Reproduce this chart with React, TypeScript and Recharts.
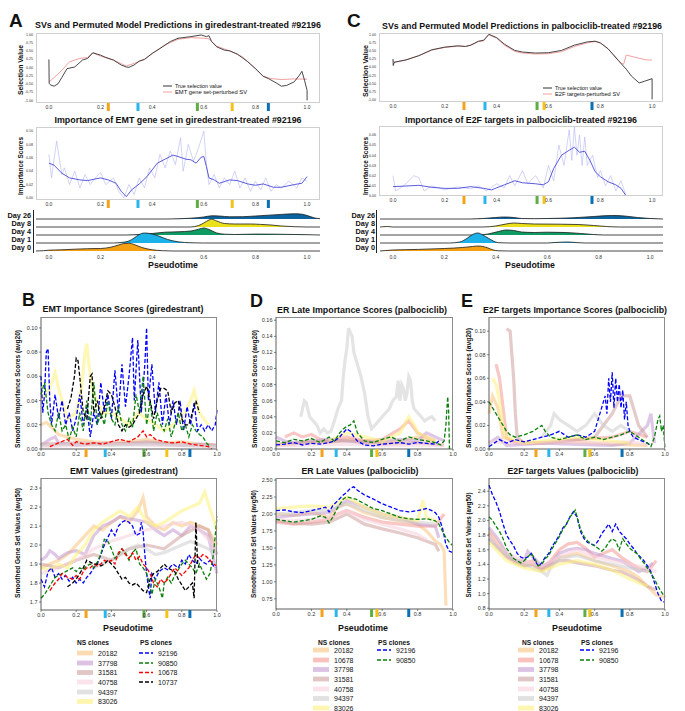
import React from 'react';
import { ComposedChart, Line, Area, Scatter, XAxis, YAxis } from 'recharts';

type Pt = [number, number];

const FONT = '"Liberation Sans", Arial, sans-serif';
const X_TICKS = [0, 0.2, 0.4, 0.6, 0.8, 1.0];

// stage markers drawn under each pseudotime axis
const STAGE_COLORS = ['#f5a21b', '#29b6ee', '#5fae45', '#f5c21a', '#0b6fb4'];
const markA = [0.23, 0.345, 0.575, 0.71, 0.85];
const markC = [0.274, 0.355, 0.556, 0.583, 0.768];
const markB = [0.256, 0.365, 0.585, 0.715, 0.846];
const markD = [0.26, 0.34, 0.54, 0.57, 0.75];
const markE = [0.267, 0.34, 0.545, 0.573, 0.756];

// ---- Panel A: giredestrant #92196 ----
const aTrueSV: Pt[] = [[0, 0.24], [0.001, -0.49], [0.008, -0.54], [0.02, -0.57], [0.035, -0.5], [0.05, -0.31], [0.07, -0.04], [0.1, 0.01], [0.13, 0.22], [0.15, 0.27], [0.17, 0.44], [0.2, 0.37], [0.22, 0.3], [0.25, 0.22], [0.28, 0.07], [0.3, 0.01], [0.31, 0], [0.33, 0.07], [0.35, 0.19], [0.37, 0.24], [0.4, 0.42], [0.43, 0.57], [0.47, 0.78], [0.5, 0.88], [0.55, 0.93], [0.59, 0.98], [0.61, 0.93], [0.62, 0.96], [0.63, 0.78], [0.65, 0.62], [0.68, 0.52], [0.7, 0.5], [0.73, 0.4], [0.77, 0.17], [0.8, -0.04], [0.83, -0.27], [0.85, -0.34], [0.88, -0.47], [0.9, -0.57], [0.92, -0.55], [0.95, -0.44], [0.97, -0.24], [0.98, -0.12], [0.99, -0.39], [1.0, -0.7], [1.0, -1.0]];
const aPermSV: Pt[] = [[0, -0.44], [0.02, -0.31], [0.05, -0.09], [0.08, 0.17], [0.12, 0.27], [0.15, 0.3], [0.17, 0.44], [0.2, 0.34], [0.25, 0.22], [0.3, 0.04], [0.33, 0.12], [0.37, 0.24], [0.4, 0.42], [0.45, 0.68], [0.5, 0.85], [0.55, 0.9], [0.6, 0.88], [0.62, 0.86], [0.65, 0.64], [0.7, 0.5], [0.75, 0.32], [0.8, -0.04], [0.83, -0.27], [0.86, -0.34], [0.9, -0.37], [0.95, -0.35], [1.0, -0.36]];
const aImpSmooth: Pt[] = [[0, 0.052], [0.02, 0.049], [0.05, 0.037], [0.08, 0.03], [0.12, 0.027], [0.15, 0.026], [0.2, 0.03], [0.23, 0.027], [0.26, 0.022], [0.28, 0.01], [0.3, 0.002], [0.32, 0.012], [0.35, 0.021], [0.38, 0.032], [0.4, 0.042], [0.42, 0.052], [0.45, 0.058], [0.48, 0.064], [0.5, 0.062], [0.53, 0.058], [0.55, 0.057], [0.57, 0.052], [0.59, 0.061], [0.6, 0.062], [0.61, 0.047], [0.62, 0.03], [0.64, 0.027], [0.66, 0.022], [0.7, 0.027], [0.73, 0.026], [0.77, 0.021], [0.8, 0.019], [0.83, 0.021], [0.87, 0.016], [0.9, 0.016], [0.95, 0.02], [0.98, 0.022], [1.0, 0.032]];
const aImpRaw: Pt[] = [[0, 0.065], [0.01, 0.03], [0.03, 0.085], [0.04, 0.06], [0.05, 0.035], [0.06, 0.045], [0.08, 0.02], [0.1, 0.04], [0.12, 0.015], [0.14, 0.035], [0.16, 0.02], [0.18, 0.03], [0.2, 0.038], [0.22, 0.02], [0.25, 0.03], [0.27, 0.01], [0.29, 0], [0.31, 0.02], [0.33, 0.005], [0.35, 0.03], [0.37, 0.015], [0.39, 0.045], [0.41, 0.03], [0.43, 0.065], [0.45, 0.045], [0.47, 0.07], [0.49, 0.05], [0.51, 0.09], [0.52, 0.04], [0.54, 0.08], [0.56, 0.055], [0.58, 0.075], [0.6, 0.1], [0.61, 0.05], [0.62, 0.02], [0.64, 0.035], [0.66, 0.015], [0.68, 0.03], [0.7, 0.02], [0.72, 0.04], [0.74, 0.015], [0.76, 0.03], [0.78, 0.01], [0.8, 0.025], [0.82, 0.012], [0.84, 0.03], [0.86, 0.01], [0.88, 0.02], [0.9, 0.015], [0.93, 0.025], [0.96, 0.015], [0.98, 0.03], [1.0, 0.025]];

// ridgeline densities (Day 26 on top)
const ridgeA = [
  { label: 'Day 26', color: '#0b639e', pts: [[-0.05, 0], [0.45, 0], [0.5, 0.2], [0.55, 0.8], [0.6, 2], [0.63, 3.2], [0.66, 3], [0.7, 2.2], [0.75, 2.3], [0.8, 3], [0.85, 3.8], [0.9, 4.6], [0.95, 5.2], [0.98, 4.8], [1.0, 3.5], [1.03, 1], [1.05, 0.3]] as Pt[] },
  { label: 'Day 8', color: '#ece01c', pts: [[-0.05, 0], [0.55, 0], [0.58, 1.5], [0.6, 4], [0.62, 7], [0.63, 7.8], [0.65, 6], [0.68, 3.5], [0.72, 3], [0.78, 3], [0.82, 2.6], [0.86, 2], [0.9, 1], [0.95, 0.3], [1.0, 0], [1.05, 0]] as Pt[] },
  { label: 'Day 4', color: '#0e9a63', pts: [[-0.05, 0], [0.3, 0], [0.35, 0.5], [0.4, 1.5], [0.45, 2.8], [0.5, 3.2], [0.55, 4], [0.58, 5.8], [0.6, 7], [0.62, 5.5], [0.65, 2], [0.68, 0.8], [0.72, 0.5], [0.8, 0.9], [0.88, 0.8], [0.95, 0.5], [1.0, 0.3], [1.05, 0]] as Pt[] },
  { label: 'Day 1', color: '#1ab2e8', pts: [[-0.05, 0], [0.25, 0], [0.28, 0.5], [0.31, 2], [0.33, 5], [0.35, 8.5], [0.37, 10], [0.4, 9], [0.43, 6.5], [0.46, 3.5], [0.5, 1.2], [0.55, 0.2], [0.6, 0], [1.05, 0]] as Pt[] },
  { label: 'Day 0', color: '#f59f12', pts: [[-0.05, 0], [-0.02, 0.3], [0, 0.8], [0.05, 1.2], [0.1, 1.8], [0.15, 2.3], [0.2, 2.5], [0.24, 3.8], [0.27, 6], [0.29, 7.5], [0.31, 7.8], [0.33, 6.5], [0.36, 3.5], [0.4, 1.2], [0.44, 0.3], [0.48, 0], [1.05, 0]] as Pt[] },
];

// ---- Panel C: palbociclib #92196 ----
const cTrueSV: Pt[] = [[0, 0.25], [0.001, 0.05], [0.005, 0.15], [0.05, 0.22], [0.1, 0.35], [0.15, 0.53], [0.2, 0.61], [0.25, 0.65], [0.28, 0.63], [0.3, 0.67], [0.33, 0.79], [0.35, 0.82], [0.37, 1.0], [0.4, 0.9], [0.43, 0.7], [0.47, 0.51], [0.5, 0.46], [0.55, 0.43], [0.6, 0.44], [0.65, 0.51], [0.7, 0.67], [0.75, 0.77], [0.78, 0.79], [0.8, 0.74], [0.83, 0.56], [0.87, 0.2], [0.9, -0.06], [0.92, -0.27], [0.95, -0.48], [0.97, -0.43], [1.0, -0.35], [1.0, -0.98]];
const cPermSV: Pt[] = [[0, 0.2], [0.005, 0.15], [0.05, 0.22], [0.1, 0.35], [0.15, 0.52], [0.2, 0.6], [0.25, 0.64], [0.28, 0.63], [0.3, 0.67], [0.33, 0.78], [0.35, 0.8], [0.37, 0.99], [0.4, 0.88], [0.43, 0.67], [0.47, 0.48], [0.5, 0.43], [0.55, 0.4], [0.6, 0.41], [0.65, 0.47], [0.7, 0.63], [0.75, 0.74], [0.78, 0.78], [0.8, 0.74], [0.83, 0.56], [0.86, 0.3], [0.88, 0.12], [0.89, 0.09], [0.9, 0.37], [0.95, 0.27], [0.98, 0.22], [1.0, 0.22]];
const cImpSmooth: Pt[] = [[0, 0.0092], [0.05, 0.0098], [0.1, 0.0105], [0.15, 0.0085], [0.2, 0.0075], [0.25, 0.0075], [0.3, 0.0092], [0.35, 0.0075], [0.38, 0.006], [0.4, 0.008], [0.43, 0.011], [0.47, 0.015], [0.5, 0.013], [0.55, 0.012], [0.58, 0.011], [0.6, 0.014], [0.62, 0.027], [0.65, 0.04], [0.68, 0.045], [0.7, 0.048], [0.72, 0.043], [0.74, 0.044], [0.76, 0.035], [0.78, 0.024], [0.8, 0.019], [0.83, 0.014], [0.86, 0.011], [0.88, 0.0075], [0.9, 0]];
const cImpRaw: Pt[] = [[0, 0.02], [0.01, 0.005], [0.03, 0.008], [0.05, 0.012], [0.08, 0.02], [0.1, 0.018], [0.12, 0.005], [0.15, 0.01], [0.2, 0.006], [0.25, 0.009], [0.3, 0.007], [0.33, 0.01], [0.36, 0.005], [0.4, 0.012], [0.43, 0.008], [0.45, 0.02], [0.47, 0.01], [0.5, 0.025], [0.52, 0.012], [0.55, 0.02], [0.58, 0.008], [0.6, 0.03], [0.62, 0.015], [0.64, 0.05], [0.66, 0.03], [0.68, 0.065], [0.69, 0.035], [0.7, 0.068], [0.71, 0.04], [0.72, 0.06], [0.73, 0.03], [0.74, 0.058], [0.75, 0.03], [0.77, 0.04], [0.79, 0.018], [0.8, 0.025], [0.82, 0.01], [0.84, 0.02], [0.86, 0.005], [0.88, 0.015], [0.9, 0]];

const ridgeC = [
  { label: 'Day 26', color: '#0b639e', pts: [[-0.05, 0], [0.3, 0], [0.35, 0.5], [0.4, 1.5], [0.43, 2], [0.47, 1.5], [0.5, 0.5], [0.55, 0.3], [0.6, 0.5], [0.7, 1.2], [0.78, 2.5], [0.85, 3.5], [0.9, 3], [0.95, 1.5], [1.0, 0.5], [1.05, 0]] as Pt[] },
  { label: 'Day 8', color: '#ece01c', pts: [[-0.05, 0], [-0.02, 0.5], [0, 0], [0.35, 0], [0.4, 1], [0.44, 3], [0.47, 4], [0.5, 3.5], [0.55, 3], [0.65, 2.8], [0.72, 2.5], [0.78, 1.5], [0.83, 0.5], [0.88, 0], [1.05, 0]] as Pt[] },
  { label: 'Day 4', color: '#0e9a63', pts: [[-0.05, 0], [0.33, 0], [0.37, 1], [0.41, 3.5], [0.44, 5], [0.47, 4.5], [0.5, 3], [0.55, 2.5], [0.6, 2.8], [0.67, 2.5], [0.73, 1.5], [0.78, 0.5], [0.82, 0], [1.05, 0]] as Pt[] },
  { label: 'Day 1', color: '#1ab2e8', pts: [[-0.05, 0], [0.22, 0], [0.26, 1], [0.29, 5], [0.31, 8.5], [0.33, 10], [0.35, 8], [0.37, 5], [0.39, 2], [0.41, 0.3], [0.45, 0], [0.6, 0], [0.63, 0.5], [0.68, 1], [0.72, 0.3], [0.75, 0], [1.05, 0]] as Pt[] },
  { label: 'Day 0', color: '#f59f12', pts: [[-0.05, 0], [-0.03, 0.4], [0, 1], [0.1, 1.6], [0.2, 2.5], [0.27, 3.5], [0.31, 4.5], [0.33, 5], [0.35, 4.5], [0.37, 3], [0.39, 1], [0.41, 0.2], [0.45, 0], [1.05, 0]] as Pt[] },
];

// ---- Panel B: EMT (giredestrant) ----
const bImp92196: Pt[] = [[0, 0.06], [0.01, 0.03], [0.02, 0.045], [0.03, 0.08], [0.04, 0.083], [0.05, 0.04], [0.06, 0.02], [0.08, 0.045], [0.1, 0.025], [0.12, 0.04], [0.14, 0.02], [0.16, 0.03], [0.18, 0.015], [0.2, 0.025], [0.22, 0.045], [0.24, 0.02], [0.26, 0.035], [0.28, 0.01], [0.3, 0.03], [0.32, 0.02], [0.34, 0.055], [0.36, 0.03], [0.38, 0.045], [0.4, 0.025], [0.42, 0.065], [0.44, 0.03], [0.46, 0.07], [0.48, 0.035], [0.5, 0.06], [0.52, 0.092], [0.53, 0.04], [0.55, 0.09], [0.57, 0.03], [0.59, 0.07], [0.6, 0.1], [0.61, 0.04], [0.63, 0.07], [0.65, 0.03], [0.67, 0.055], [0.69, 0.02], [0.71, 0.045], [0.73, 0.02], [0.75, 0.04], [0.77, 0.02], [0.79, 0.04], [0.81, 0.015], [0.83, 0.035], [0.85, 0.02], [0.87, 0.038], [0.89, 0.015], [0.91, 0.02], [0.93, 0.015], [0.95, 0.02], [0.97, 0.015], [0.99, 0.02], [1.0, 0.032]];
const bImp90850: Pt[] = [[0, 0.045], [0.02, 0.055], [0.04, 0.03], [0.06, 0.02], [0.08, 0.015], [0.1, 0.03], [0.12, 0.015], [0.14, 0.02], [0.16, 0.008], [0.18, 0.018], [0.2, 0.01], [0.22, 0.03], [0.24, 0.015], [0.26, 0.04], [0.28, 0.02], [0.3, 0.055], [0.32, 0.02], [0.34, 0.03], [0.36, 0.02], [0.38, 0.04], [0.4, 0.025], [0.42, 0.02], [0.44, 0.035], [0.46, 0.02], [0.48, 0.015], [0.5, 0.025], [0.52, 0.018], [0.54, 0.045], [0.56, 0.03], [0.58, 0.06], [0.6, 0.02], [0.62, 0.04], [0.64, 0.015], [0.66, 0.03], [0.68, 0.02], [0.7, 0.015], [0.72, 0.025], [0.74, 0.01], [0.76, 0.02], [0.78, 0.03], [0.8, 0.015], [0.82, 0.02], [0.84, 0.01], [0.86, 0.02], [0.88, 0.015], [0.9, 0.012], [0.92, 0.01], [0.94, 0.005], [0.96, 0.002]];
const bImp10678: Pt[] = [[0.05, 0.002], [0.1, 0.005], [0.15, 0.008], [0.18, 0.003], [0.2, 0.006], [0.25, 0.004], [0.3, 0.005], [0.35, 0.004], [0.4, 0.006], [0.45, 0.008], [0.5, 0.006], [0.55, 0.01], [0.58, 0.015], [0.6, 0.01], [0.62, 0.012], [0.65, 0.008], [0.7, 0.006], [0.75, 0.005], [0.8, 0.006], [0.85, 0.004], [0.9, 0.003], [0.95, 0.002], [0.97, 0]];
const bImp10737: Pt[] = [[0.15, 0.033], [0.17, 0.042], [0.19, 0.06], [0.2, 0.075], [0.21, 0.073], [0.22, 0.06], [0.24, 0.03], [0.26, 0.025], [0.28, 0.06], [0.29, 0.062], [0.3, 0.03], [0.32, 0.04], [0.34, 0.025], [0.36, 0.035], [0.38, 0.048], [0.4, 0.045], [0.42, 0.035], [0.44, 0.02], [0.46, 0.015], [0.48, 0.02], [0.5, 0.018], [0.52, 0.02], [0.54, 0.025], [0.56, 0.03], [0.58, 0.045], [0.6, 0.052], [0.62, 0.04], [0.64, 0.025], [0.66, 0.04], [0.68, 0.05], [0.7, 0.05], [0.72, 0.048], [0.74, 0.03], [0.76, 0.038], [0.78, 0.04], [0.8, 0.025], [0.82, 0.02], [0.84, 0.02], [0.86, 0.03], [0.88, 0.04], [0.9, 0.03]];
const bImp20182: Pt[] = [[0, 0.02], [0.03, 0.022], [0.06, 0.018], [0.1, 0.012], [0.15, 0.01], [0.2, 0.008], [0.3, 0.006], [0.4, 0.005], [0.5, 0.006], [0.6, 0.008], [0.7, 0.005], [0.8, 0.006], [0.9, 0.004], [1.0, 0.003]];
const bImp37798: Pt[] = [[0, 0.003], [0.05, 0.008], [0.08, 0.01], [0.1, 0.005], [0.15, 0.004], [0.2, 0.003], [0.3, 0.004], [0.4, 0.005], [0.5, 0.004], [0.6, 0.005], [0.7, 0.004], [0.8, 0.003], [0.9, 0.004], [1.0, 0.003]];
const bImp31581: Pt[] = [[0, 0.004], [0.2, 0.005], [0.4, 0.004], [0.6, 0.006], [0.8, 0.004], [1.0, 0.003]];
const bImp40758: Pt[] = [[0, 0.002], [0.2, 0.003], [0.4, 0.004], [0.6, 0.003], [0.8, 0.003], [1.0, 0.002]];
const bImp94397: Pt[] = [[0, 0.003], [0.2, 0.004], [0.4, 0.003], [0.6, 0.004], [0.8, 0.003], [1.0, 0.002]];
const bImp83026: Pt[] = [[0, 0.04], [0.05, 0.05], [0.08, 0.063], [0.1, 0.05], [0.13, 0.035], [0.15, 0.025], [0.2, 0.03], [0.23, 0.05], [0.25, 0.08], [0.26, 0.087], [0.28, 0.06], [0.3, 0.045], [0.35, 0.03], [0.4, 0.03], [0.45, 0.025], [0.5, 0.02], [0.55, 0.03], [0.6, 0.025], [0.65, 0.02], [0.7, 0.015], [0.75, 0.02], [0.8, 0.025], [0.85, 0.04], [0.87, 0.048], [0.9, 0.03], [0.95, 0.02]];

const bVal92196: Pt[] = [[0, 1.82], [0.02, 1.78], [0.04, 1.86], [0.06, 1.88], [0.08, 1.83], [0.1, 1.85], [0.12, 1.82], [0.14, 1.84], [0.16, 1.81], [0.18, 1.83], [0.2, 1.8], [0.22, 1.82], [0.24, 1.8], [0.26, 1.83], [0.28, 1.85], [0.3, 1.88], [0.32, 1.9], [0.34, 1.95], [0.36, 2.0], [0.38, 2.04], [0.4, 2.08], [0.42, 2.05], [0.44, 2.1], [0.46, 2.12], [0.48, 2.13], [0.5, 2.12], [0.52, 2.1], [0.54, 2.05], [0.56, 2.06], [0.57, 2.12], [0.58, 2.07], [0.59, 1.95], [0.6, 1.85], [0.61, 1.78], [0.62, 1.72], [0.63, 1.85], [0.65, 1.82], [0.67, 1.86], [0.7, 1.88], [0.72, 1.87], [0.75, 1.9], [0.78, 1.88], [0.8, 1.92], [0.82, 1.9], [0.84, 1.95], [0.86, 1.92], [0.88, 1.9], [0.9, 1.93], [0.92, 1.91], [0.94, 1.9], [0.96, 1.92], [0.98, 1.89], [1.0, 1.88]];
const bVal90850: Pt[] = [[0, 1.72], [0.02, 1.74], [0.04, 1.77], [0.06, 1.8], [0.08, 1.83], [0.1, 1.84], [0.12, 1.85], [0.14, 1.86], [0.16, 1.87], [0.18, 1.88], [0.2, 1.86], [0.22, 1.88], [0.24, 1.87], [0.26, 1.89], [0.28, 1.9], [0.3, 1.88], [0.32, 1.91], [0.34, 1.95], [0.36, 2.03], [0.38, 2.02], [0.4, 1.98], [0.42, 1.93], [0.44, 1.95], [0.46, 1.98], [0.48, 1.96], [0.5, 1.92], [0.52, 1.96], [0.54, 1.98], [0.56, 1.9], [0.58, 1.88], [0.6, 1.85], [0.62, 1.78], [0.63, 1.74], [0.65, 1.82], [0.67, 1.78], [0.69, 1.72], [0.7, 1.8], [0.72, 1.83], [0.74, 1.8], [0.76, 1.84], [0.78, 1.87], [0.8, 1.9], [0.82, 1.92], [0.84, 1.9], [0.86, 1.88], [0.88, 1.85], [0.9, 1.9], [0.92, 1.86], [0.94, 1.82], [0.96, 1.85], [0.98, 1.95], [1.0, 2.15]];
const bVal10678: Pt[] = [[0.05, 1.76], [0.08, 1.8], [0.1, 1.82], [0.12, 1.85], [0.15, 1.83], [0.18, 1.82], [0.2, 1.84], [0.22, 1.82], [0.24, 1.86], [0.26, 1.88], [0.28, 1.88], [0.3, 1.9], [0.32, 1.89], [0.34, 1.9], [0.36, 1.92], [0.38, 1.91], [0.4, 1.92], [0.42, 1.9], [0.44, 1.96], [0.46, 1.98], [0.48, 1.95], [0.5, 1.93], [0.52, 1.96], [0.54, 1.92], [0.56, 1.94], [0.58, 1.9], [0.6, 1.88], [0.62, 1.85], [0.64, 1.8], [0.66, 1.78], [0.68, 1.82], [0.7, 1.8], [0.72, 1.82], [0.74, 1.85], [0.76, 1.88], [0.78, 1.86], [0.8, 1.84], [0.82, 1.86], [0.84, 1.88], [0.86, 1.92], [0.88, 1.95], [0.9, 1.93], [0.92, 1.95], [0.94, 1.94], [0.96, 1.92], [0.98, 1.9], [1.0, 1.89]];
const bVal10737: Pt[] = [[0.15, 1.78], [0.18, 1.8], [0.2, 1.82], [0.22, 1.85], [0.24, 1.88], [0.26, 1.92], [0.28, 1.91], [0.3, 1.9], [0.32, 1.9], [0.34, 1.89], [0.36, 1.9], [0.38, 1.92], [0.4, 1.9], [0.42, 1.88], [0.44, 1.85], [0.46, 1.82], [0.48, 1.83], [0.5, 1.8], [0.52, 1.79], [0.54, 1.8], [0.56, 1.78], [0.58, 1.76], [0.6, 1.75], [0.62, 1.82], [0.64, 1.85], [0.66, 1.86], [0.68, 1.88], [0.7, 1.9], [0.72, 1.88], [0.74, 1.87], [0.76, 1.86], [0.78, 1.82], [0.8, 1.79], [0.82, 1.76], [0.84, 1.78], [0.86, 1.8], [0.87, 1.72], [0.88, 2.12], [0.89, 1.9], [0.9, 1.88]];
const bVal20182: Pt[] = [[0, 1.88], [0.05, 1.9], [0.1, 1.92], [0.15, 1.95], [0.2, 2.0], [0.25, 2.05], [0.3, 2.1], [0.35, 2.08], [0.4, 2.12], [0.45, 2.15], [0.5, 2.12], [0.55, 2.18], [0.58, 2.25], [0.6, 2.15], [0.65, 2.1], [0.7, 2.08], [0.75, 2.12], [0.8, 2.1], [0.85, 2.12], [0.9, 2.1], [0.95, 2.08], [1.0, 2.0]];
const bVal37798: Pt[] = [[0, 1.92], [0.03, 1.94], [0.05, 1.97], [0.08, 1.95], [0.1, 1.93], [0.15, 1.96], [0.2, 1.97], [0.25, 1.95], [0.3, 2.05], [0.35, 2.1], [0.4, 2.12], [0.45, 2.15], [0.5, 2.14], [0.55, 2.13], [0.6, 2.12], [0.65, 2.08], [0.7, 2.05], [0.75, 2.08], [0.8, 2.05], [0.85, 2.1], [0.9, 2.08], [0.95, 2.05], [1.0, 1.85]];
const bVal31581: Pt[] = [[0, 1.9], [0.1, 1.88], [0.2, 1.92], [0.3, 1.95], [0.4, 1.92], [0.5, 1.98], [0.6, 2.0], [0.7, 1.98], [0.8, 2.05], [0.9, 2.1], [0.95, 2.08], [1.0, 1.95]];
const bVal40758: Pt[] = [[0, 1.85], [0.1, 1.88], [0.2, 1.92], [0.3, 1.98], [0.4, 2.02], [0.5, 2.05], [0.6, 2.08], [0.7, 2.1], [0.8, 2.12], [0.9, 2.08], [1.0, 1.98]];
const bVal94397: Pt[] = [[0.3, 1.88], [0.4, 1.92], [0.5, 1.98], [0.55, 2.0], [0.6, 1.98], [0.65, 1.95], [0.7, 1.96], [0.75, 1.98], [0.8, 2.0], [0.85, 2.02], [0.9, 2.0], [0.95, 1.98], [1.0, 1.95]];
const bVal83026: Pt[] = [[0, 1.88], [0.05, 1.87], [0.1, 1.9], [0.15, 1.88], [0.2, 1.95], [0.25, 2.0], [0.3, 2.08], [0.35, 2.12], [0.4, 2.15], [0.45, 2.18], [0.5, 2.15], [0.55, 2.2], [0.6, 2.12], [0.65, 2.1], [0.7, 2.12], [0.75, 2.15], [0.8, 2.18], [0.85, 2.2], [0.9, 2.22], [0.93, 2.28], [0.95, 2.22], [1.0, 2.08]];

// ---- Panel D: ER Late (palbociclib) ----
const dImp94397: Pt[] = [[0.14, 0.04], [0.15, 0.05], [0.16, 0.06], [0.17, 0.058], [0.19, 0.04], [0.21, 0.035], [0.23, 0.03], [0.25, 0.02], [0.27, 0.025], [0.29, 0.02], [0.31, 0.022], [0.33, 0.035], [0.35, 0.05], [0.37, 0.06], [0.38, 0.09], [0.39, 0.11], [0.4, 0.125], [0.41, 0.15], [0.42, 0.145], [0.43, 0.14], [0.44, 0.12], [0.46, 0.105], [0.48, 0.09], [0.5, 0.07], [0.52, 0.04], [0.54, 0.025], [0.56, 0.03], [0.58, 0.035], [0.6, 0.04], [0.62, 0.045], [0.64, 0.05], [0.66, 0.06], [0.68, 0.065], [0.69, 0.085], [0.7, 0.06], [0.71, 0.08], [0.72, 0.075], [0.73, 0.06], [0.74, 0.07], [0.75, 0.09], [0.76, 0.085], [0.77, 0.06], [0.78, 0.05], [0.8, 0.045], [0.82, 0.04], [0.84, 0.035], [0.86, 0.038], [0.88, 0.04], [0.9, 0.035]];
const dImp90850: Pt[] = [[0, 0.01], [0.05, 0.008], [0.1, 0.012], [0.15, 0.01], [0.2, 0.013], [0.25, 0.008], [0.3, 0.015], [0.33, 0.01], [0.36, 0.02], [0.38, 0.025], [0.4, 0.028], [0.42, 0.03], [0.44, 0.035], [0.46, 0.02], [0.5, 0.01], [0.55, 0.008], [0.6, 0.012], [0.65, 0.015], [0.7, 0.01], [0.75, 0.015], [0.8, 0.012], [0.85, 0.01], [0.9, 0.008], [0.93, 0.005], [0.95, 0.01], [0.96, 0.03], [0.97, 0.065], [0.975, 0.05], [0.98, 0]];
const dImp92196: Pt[] = [[0, 0.005], [0.05, 0.006], [0.1, 0.008], [0.15, 0.005], [0.2, 0.007], [0.25, 0.006], [0.3, 0.008], [0.33, 0.01], [0.36, 0.015], [0.38, 0.02], [0.4, 0.025], [0.42, 0.022], [0.44, 0.015], [0.46, 0.01], [0.5, 0.005], [0.55, 0.004], [0.6, 0.006], [0.65, 0.007], [0.7, 0.008], [0.75, 0.006], [0.8, 0.008], [0.85, 0.007], [0.9, 0.006], [0.92, 0.01]];
const dImp20182: Pt[] = [[0, 0.005], [0.1, 0.006], [0.2, 0.01], [0.3, 0.008], [0.4, 0.012], [0.5, 0.01], [0.6, 0.008], [0.7, 0.01], [0.8, 0.015], [0.9, 0.008]];
const dImp10678: Pt[] = [[0.05, 0.015], [0.1, 0.02], [0.15, 0.015], [0.2, 0.018], [0.25, 0.012], [0.3, 0.01], [0.4, 0.015], [0.5, 0.01], [0.6, 0.012], [0.7, 0.025], [0.75, 0.035], [0.8, 0.02], [0.85, 0.015], [0.9, 0.01]];
const dImp37798: Pt[] = [[0, 0.015], [0.05, 0.01], [0.1, 0.008], [0.2, 0.01], [0.3, 0.012], [0.4, 0.01], [0.5, 0.008], [0.6, 0.01], [0.7, 0.012], [0.8, 0.01], [0.85, 0.02], [0.9, 0.015], [0.95, 0.01]];
const dImp31581: Pt[] = [[0, 0.006], [0.2, 0.008], [0.4, 0.01], [0.6, 0.006], [0.8, 0.008], [0.95, 0.005]];
const dImp40758: Pt[] = [[0, 0.004], [0.2, 0.005], [0.4, 0.006], [0.6, 0.004], [0.8, 0.005], [0.95, 0.004]];
const dImp83026: Pt[] = [[0.3, 0.01], [0.4, 0.02], [0.5, 0.015], [0.6, 0.01], [0.7, 0.02], [0.75, 0.04], [0.78, 0.03], [0.8, 0.02], [0.9, 0.01]];

const dVal92196: Pt[] = [[0, 2.05], [0.05, 2.06], [0.1, 2.03], [0.15, 2.02], [0.2, 2.05], [0.25, 2.08], [0.28, 2.1], [0.3, 2.03], [0.32, 2.12], [0.35, 2.2], [0.38, 2.28], [0.4, 2.32], [0.42, 2.38], [0.44, 2.4], [0.46, 2.35], [0.5, 2.28], [0.55, 2.22], [0.6, 2.15], [0.65, 2.1], [0.7, 2.05], [0.75, 2.03], [0.8, 2.05], [0.85, 2.08], [0.88, 2.05], [0.9, 2.02], [0.92, 1.95], [0.94, 1.8], [0.96, 1.55], [0.98, 1.45], [1.0, 1.43]];
const dVal90850: Pt[] = [[0, 1.92], [0.05, 1.9], [0.1, 1.88], [0.15, 1.9], [0.2, 1.92], [0.25, 1.97], [0.28, 1.95], [0.3, 1.87], [0.32, 1.95], [0.35, 2.1], [0.38, 2.22], [0.4, 2.25], [0.45, 2.22], [0.5, 2.15], [0.55, 2.08], [0.6, 2.05], [0.65, 2.0], [0.7, 1.95], [0.75, 1.93], [0.8, 1.92], [0.85, 1.93], [0.9, 1.9], [0.92, 1.85], [0.94, 1.75], [0.96, 1.65], [0.98, 1.58], [1.0, 1.53]];
const dVal20182: Pt[] = [[0, 2.0], [0.1, 1.98], [0.2, 2.02], [0.3, 1.95], [0.35, 2.1], [0.4, 2.15], [0.5, 2.02], [0.6, 1.95], [0.7, 1.9], [0.8, 1.85], [0.85, 1.75], [0.9, 1.6], [0.93, 1.55], [0.95, 1.45], [0.96, 0.65]];
const dVal10678: Pt[] = [[0, 1.88], [0.1, 1.85], [0.2, 1.88], [0.3, 1.92], [0.35, 2.0], [0.4, 2.05], [0.5, 1.95], [0.6, 1.88], [0.7, 1.85], [0.8, 1.82], [0.9, 1.82], [0.95, 2.0]];
const dVal37798: Pt[] = [[0, 1.95], [0.1, 1.98], [0.2, 2.0], [0.3, 2.02], [0.4, 2.2], [0.5, 2.1], [0.6, 2.0], [0.7, 1.95], [0.8, 1.85], [0.9, 1.82], [0.92, 1.65]];
const dVal31581: Pt[] = [[0, 1.9], [0.1, 1.86], [0.2, 1.85], [0.3, 1.88], [0.4, 2.0], [0.5, 1.85], [0.6, 1.78], [0.7, 1.72], [0.8, 1.65], [0.9, 1.55], [0.92, 1.45]];
const dVal40758: Pt[] = [[0, 1.92], [0.1, 1.9], [0.2, 1.92], [0.3, 1.95], [0.4, 2.05], [0.5, 1.92], [0.6, 1.85], [0.7, 1.78], [0.8, 1.7], [0.85, 1.62]];
const dVal94397: Pt[] = [[0, 2.0], [0.1, 2.02], [0.2, 2.05], [0.3, 2.05], [0.4, 2.15], [0.5, 2.05], [0.6, 1.95], [0.7, 1.9], [0.8, 1.88], [0.9, 1.85]];
const dVal83026: Pt[] = [[0, 2.08], [0.1, 2.1], [0.2, 2.12], [0.3, 2.1], [0.4, 2.25], [0.5, 2.1], [0.6, 2.0], [0.7, 1.95], [0.8, 1.9], [0.83, 2.2], [0.85, 1.95], [0.9, 1.9]];

// ---- Panel E: E2F targets (palbociclib) ----
const eImp92196: Pt[] = [[0, 0.002], [0.03, 0.005], [0.06, 0.008], [0.1, 0.005], [0.15, 0.008], [0.2, 0.006], [0.25, 0.008], [0.3, 0.01], [0.35, 0.012], [0.4, 0.015], [0.45, 0.01], [0.5, 0.012], [0.55, 0.01], [0.6, 0.015], [0.62, 0.025], [0.64, 0.035], [0.66, 0.045], [0.67, 0.03], [0.68, 0.06], [0.69, 0.04], [0.7, 0.065], [0.71, 0.035], [0.72, 0.06], [0.73, 0.04], [0.74, 0.055], [0.75, 0.035], [0.76, 0.05], [0.77, 0.025], [0.78, 0.04], [0.79, 0.02], [0.8, 0.015], [0.82, 0.01], [0.85, 0.008], [0.9, 0.005], [0.92, 0.003]];
const eImp90850: Pt[] = [[0, 0.04], [0.02, 0.035], [0.04, 0.03], [0.06, 0.025], [0.08, 0.02], [0.1, 0.015], [0.12, 0.012], [0.15, 0.01], [0.2, 0.012], [0.25, 0.015], [0.3, 0.02], [0.32, 0.015], [0.35, 0.01], [0.4, 0.008], [0.45, 0.01], [0.5, 0.012], [0.55, 0.008], [0.6, 0.01], [0.65, 0.008], [0.7, 0.01], [0.75, 0.012], [0.8, 0.015], [0.85, 0.01], [0.9, 0.005], [0.92, 0.002], [0.94, 0.01], [0.96, 0.025], [0.97, 0.028], [0.98, 0.015], [0.99, 0.02], [1.0, 0]];
const eImp20182: Pt[] = [[0, 0.03], [0.02, 0.045], [0.05, 0.035], [0.08, 0.01], [0.15, 0.006], [0.3, 0.005], [0.5, 0.006], [0.7, 0.004], [0.9, 0.003]];
const eImp10678: Pt[] = [[0.04, 0.072], [0.06, 0.06], [0.08, 0.035], [0.1, 0.01], [0.15, 0.005], [0.3, 0.005], [0.5, 0.008], [0.7, 0.01], [0.8, 0.015], [0.9, 0.01]];
const eImp37798: Pt[] = [[0, 0.005], [0.05, 0.01], [0.1, 0.003], [0.2, 0.004], [0.3, 0.005], [0.5, 0.004], [0.7, 0.003], [0.8, 0.005], [0.9, 0.02], [0.92, 0.03], [0.94, 0.005]];
const eImp31581: Pt[] = [[0.1, 0.102], [0.12, 0.1], [0.13, 0.08], [0.14, 0.06], [0.15, 0.03], [0.16, 0.01], [0.2, 0.005], [0.4, 0.006], [0.6, 0.01], [0.7, 0.03], [0.75, 0.045], [0.8, 0.045], [0.83, 0.03], [0.85, 0.02], [0.9, 0.01]];
const eImp40758: Pt[] = [[0, 0.006], [0.2, 0.005], [0.4, 0.006], [0.6, 0.005], [0.8, 0.006], [0.9, 0.004]];
const eImp94397: Pt[] = [[0.3, 0.01], [0.35, 0.02], [0.37, 0.03], [0.4, 0.025], [0.45, 0.02], [0.5, 0.015], [0.55, 0.02], [0.6, 0.03], [0.65, 0.02], [0.7, 0.015], [0.75, 0.02], [0.8, 0.015]];
const eImp83026: Pt[] = [[0.02, 0.06], [0.04, 0.055], [0.06, 0.04], [0.08, 0.02], [0.1, 0.01], [0.2, 0.005], [0.5, 0.01], [0.8, 0.005]];

const eVal92196: Pt[] = [[0, 2.48], [0.02, 2.35], [0.04, 2.25], [0.06, 2.12], [0.08, 1.95], [0.1, 1.8], [0.12, 1.72], [0.14, 1.65], [0.16, 1.55], [0.18, 1.5], [0.2, 1.48], [0.22, 1.5], [0.24, 1.55], [0.26, 1.45], [0.28, 1.38], [0.3, 1.42], [0.32, 1.5], [0.34, 1.55], [0.36, 1.65], [0.38, 1.72], [0.4, 1.8], [0.42, 1.9], [0.44, 1.95], [0.46, 2.05], [0.48, 2.12], [0.5, 2.05], [0.52, 1.85], [0.54, 1.75], [0.56, 1.7], [0.58, 1.68], [0.6, 1.66], [0.62, 1.72], [0.64, 1.82], [0.66, 1.88], [0.68, 1.95], [0.7, 1.85], [0.72, 1.95], [0.74, 1.85], [0.76, 1.8], [0.78, 1.75], [0.8, 1.68], [0.82, 1.62], [0.84, 1.55], [0.86, 1.5], [0.88, 1.45], [0.9, 1.38], [0.92, 1.3], [0.94, 1.15], [0.96, 1.0], [0.98, 0.9], [1.0, 0.88]];
const eVal90850: Pt[] = [[0, 2.05], [0.02, 2.0], [0.04, 1.92], [0.06, 1.85], [0.08, 1.75], [0.1, 1.62], [0.12, 1.55], [0.14, 1.48], [0.16, 1.45], [0.18, 1.42], [0.2, 1.45], [0.22, 1.5], [0.24, 1.55], [0.26, 1.48], [0.28, 1.38], [0.3, 1.4], [0.32, 1.48], [0.34, 1.52], [0.36, 1.62], [0.38, 1.7], [0.4, 1.78], [0.42, 1.88], [0.44, 1.95], [0.46, 2.05], [0.48, 2.1], [0.49, 2.14], [0.5, 2.05], [0.52, 1.88], [0.54, 1.78], [0.56, 1.72], [0.58, 1.68], [0.6, 1.65], [0.62, 1.62], [0.64, 1.58], [0.66, 1.62], [0.68, 1.7], [0.7, 1.75], [0.72, 1.72], [0.74, 1.6], [0.76, 1.75], [0.78, 1.68], [0.8, 1.62], [0.82, 1.58], [0.84, 1.55], [0.86, 1.48], [0.88, 1.42], [0.9, 1.35], [0.92, 1.28], [0.94, 1.2], [0.96, 1.1], [0.98, 1.02], [1.0, 0.95]];
const eVal20182: Pt[] = [[0, 1.85], [0.05, 1.7], [0.1, 1.55], [0.15, 1.45], [0.2, 1.38], [0.25, 1.4], [0.3, 1.32], [0.35, 1.38], [0.4, 1.5], [0.45, 1.52], [0.5, 1.55], [0.55, 1.5], [0.6, 1.45], [0.7, 1.38], [0.8, 1.3], [0.85, 1.22], [0.9, 1.1], [0.95, 0.98], [1.0, 0.95]];
const eVal10678: Pt[] = [[0, 1.82], [0.05, 1.65], [0.1, 1.52], [0.15, 1.45], [0.2, 1.42], [0.25, 1.45], [0.3, 1.35], [0.35, 1.45], [0.4, 1.6], [0.45, 1.68], [0.5, 1.7], [0.55, 1.62], [0.6, 1.5], [0.65, 1.55], [0.7, 1.6], [0.75, 1.5], [0.8, 1.42], [0.85, 1.35], [0.9, 1.3], [0.95, 1.45]];
const eVal37798: Pt[] = [[0, 1.9], [0.05, 1.75], [0.1, 1.55], [0.15, 1.45], [0.2, 1.45], [0.22, 1.58], [0.25, 1.5], [0.3, 1.38], [0.35, 1.42], [0.4, 1.55], [0.45, 1.6], [0.5, 1.62], [0.55, 1.6], [0.6, 1.55], [0.7, 1.48], [0.75, 1.45], [0.8, 1.38], [0.85, 1.3], [0.9, 1.35], [0.93, 1.42]];
const eVal31581: Pt[] = [[0, 1.75], [0.05, 1.62], [0.1, 1.5], [0.15, 1.42], [0.2, 1.38], [0.25, 1.4], [0.3, 1.32], [0.35, 1.4], [0.4, 1.45], [0.45, 1.45], [0.5, 1.42], [0.55, 1.4], [0.6, 1.38], [0.65, 1.35], [0.7, 1.32], [0.75, 1.3], [0.8, 1.25], [0.85, 1.18], [0.9, 1.1], [0.95, 1.05]];
const eVal40758: Pt[] = [[0, 1.8], [0.1, 1.55], [0.2, 1.45], [0.3, 1.38], [0.4, 1.5], [0.5, 1.6], [0.6, 1.5], [0.7, 1.45], [0.8, 1.4], [0.9, 1.35], [0.95, 1.3]];
const eVal94397: Pt[] = [[0, 1.75], [0.1, 1.52], [0.2, 1.4], [0.3, 1.3], [0.33, 1.25], [0.35, 1.35], [0.4, 1.48], [0.5, 1.52], [0.6, 1.45], [0.7, 1.4], [0.8, 1.35], [0.9, 1.3]];
const eVal83026: Pt[] = [[0, 1.7], [0.1, 1.45], [0.2, 1.35], [0.3, 1.3], [0.4, 1.4], [0.5, 1.45], [0.6, 1.4], [0.7, 1.32], [0.8, 1.2], [0.85, 1.15], [0.9, 1.1]];

// clone colours
const NS_COLOR: Record<string, string> = {
  '20182': '#f9c47e', '37798': '#c49ad2', '31581': '#cf9f9f', '40758': '#f6d0dc',
  '94397': '#cdcdcd', '83026': '#fdf07a', '10678': '#f59a94',
};
const PS_COLOR: Record<string, string> = { '92196': '#0000ff', '90850': '#0a800a', '10678': '#ff0000', '10737': '#000000' };
const NS_B = ['20182', '37798', '31581', '40758', '94397', '83026'];
const PS_B = ['92196', '90850', '10678', '10737'];
const NS_DE = ['20182', '10678', '37798', '31581', '40758', '94397', '83026'];
const PS_DE = ['92196', '90850'];

interface LineSpec { pts: Pt[]; color: string; w: number; dash?: string; op?: number }
interface RidgeSpec { label: string; color: string; pts: Pt[] }

const ns = (pts: Pt[], id: string): LineSpec => ({ pts, color: NS_COLOR[id], w: 3.2, op: 0.55 });
const ps = (pts: Pt[], id: string): LineSpec => ({ pts, color: PS_COLOR[id], w: 1.3, dash: '4 2' });

interface PlotProps {
  left: number; top: number; w: number; h: number;
  xDomain: [number, number]; yDomain: [number, number];
  yTicks?: number[]; yDec?: number;
  lines?: LineSpec[]; ridges?: RidgeSpec[]; marks?: number[];
  kind: 'gg' | 'mpl' | 'ridge';
}

const Plot = ({ left, top, w, h, xDomain, yDomain, yTicks, yDec = 2, lines = [], ridges, marks, kind }: PlotProps) => {
  const mpl = kind === 'mpl';
  const yW = kind === 'ridge' ? 0 : mpl ? 24 : 16;
  const xH = 14;
  const tickFs = mpl ? 5.5 : 5;
  const markData = (marks || []).map((x, i) => ({ x, y: yDomain[0], c: STAGE_COLORS[i] }));
  return (
    <>
      <div style={{ position: 'absolute', left: left - yW, top }}>
        <ComposedChart width={w + yW + 4} height={h + xH} margin={{ top: 0, right: 4, bottom: 0, left: 0 }}>
          <XAxis type="number" dataKey="x" domain={xDomain} ticks={X_TICKS} interval={0} height={xH}
            tickFormatter={(v: number) => v.toFixed(1)}
            tick={{ fontSize: tickFs, fill: '#333', fontFamily: FONT }}
            axisLine={mpl ? { stroke: '#333', strokeWidth: 0.8 } : false}
            tickLine={mpl ? { stroke: '#333', strokeWidth: 0.6 } : false}
            tickSize={mpl ? 2 : 0} tickMargin={mpl ? 1 : 2} />
          <YAxis type="number" domain={yDomain} ticks={yTicks} interval={0} width={yW} hide={kind === 'ridge'}
            tickFormatter={(v: number) => v.toFixed(yDec)}
            tick={{ fontSize: mpl ? tickFs : 3.6, fill: '#333', fontFamily: FONT }}
            axisLine={mpl ? { stroke: '#333', strokeWidth: 0.8 } : false}
            tickLine={mpl ? { stroke: '#333', strokeWidth: 0.6 } : false}
            tickSize={mpl ? 2 : 0} tickMargin={mpl ? 1.5 : 3} />
          {ridges && ridges.map((r, i) => {
            const base = 2 + (ridges.length - 1 - i) * 8;
            return (
              <Area key={r.label} data={r.pts.map(([x, d]) => ({ x, y: base + d }))} dataKey="y" baseValue={base}
                type="monotone" stroke="#1a1a1a" strokeWidth={0.8} fill={r.color} fillOpacity={1} isAnimationActive={false} />
            );
          })}
          {lines.map((l, i) => (
            <Line key={i} data={l.pts.map(([x, y]) => ({ x, y }))} dataKey="y" type="linear" stroke={l.color}
              strokeWidth={l.w} strokeDasharray={l.dash} strokeOpacity={l.op ?? 1} dot={false} isAnimationActive={false} />
          ))}
          {marks && (
            <Scatter data={markData} dataKey="y" isAnimationActive={false}
              shape={(p: any) => <rect x={p.cx - 1.5} y={p.cy} width={3} height={8} fill={p.payload.c} />} />
          )}
        </ComposedChart>
      </div>
      {kind === 'gg' && (
        <div style={{ position: 'absolute', left, top, width: w, height: h, border: '1px solid #cfcfcf', boxSizing: 'border-box' }} />
      )}
      {mpl && (
        <div style={{ position: 'absolute', left, top, width: w, height: h, borderTop: '1px solid #8a8a8a', borderRight: '1px solid #8a8a8a', boxSizing: 'border-box' }} />
      )}
      {kind === 'ridge' && (
        <div style={{ position: 'absolute', left: left - 3, top: top + 5, width: 1, height: h - 5, background: '#222' }} />
      )}
    </>
  );
};

interface TProps { x: number; y: number; s: string; size: number; bold?: boolean; anchor?: 'start' | 'middle' | 'end'; rot?: boolean; len?: number }
const T = ({ x, y, s, size, bold, anchor = 'middle', rot, len }: TProps) => (
  <text x={x} y={y} fontSize={size} fontWeight={bold ? 700 : 400} textAnchor={anchor} dominantBaseline="central"
    fill="#111" fontFamily={FONT} transform={rot ? `rotate(-90 ${x} ${y})` : undefined}
    textLength={len} lengthAdjust={len ? 'spacingAndGlyphs' : undefined}>{s}</text>
);

const CloneLegend = ({ nsIds, psIds, nsX, nsHeadX, psX, rows }: { nsIds: string[]; psIds: string[]; nsX: number; nsHeadX: number; psX: number; rows: number[] }) => (
  <g>
    <T x={nsHeadX} y={642} s="NS clones" size={6.3} bold anchor="start" len={32} />
    <T x={psX + 1} y={642} s="PS clones" size={6.3} bold anchor="start" len={32} />
    {nsIds.map((id, i) => (
      <g key={id}>
        <rect x={nsX} y={rows[i] - 2.4} width={16} height={4.8} fill={NS_COLOR[id]} opacity={0.6} />
        <T x={nsX + 21} y={rows[i]} s={id} size={7} anchor="start" />
      </g>
    ))}
    {psIds.map((id, i) => (
      <g key={id}>
        <line x1={psX} x2={psX + 14} y1={rows[i]} y2={rows[i]} stroke={PS_COLOR[id]} strokeWidth={1.4} strokeDasharray="4 2" />
        <T x={psX + 19} y={rows[i]} s={id} size={7} anchor="start" />
      </g>
    ))}
  </g>
);

const RidgeLabels = ({ x, ridges }: { x: number; ridges: RidgeSpec[] }) => (
  <g>
    {ridges.map((r, i) => <T key={r.label} x={x} y={215 + i * 8.2} s={r.label} size={7.3} bold anchor="end" />)}
  </g>
);

const SV_TICKS = [-1, -0.75, -0.5, -0.25, 0, 0.25, 0.5, 0.75, 1];

export default function App() {
  return (
    <div style={{ position: 'absolute', left: 0, top: 0, width: 685, height: 711, background: '#fff', fontFamily: FONT }}>
      {/* Panel A */}
      <Plot kind="gg" left={36} top={33} w={284} h={70} xDomain={[-0.05, 1.05]} yDomain={[-1.08, 1.04]} yTicks={SV_TICKS} marks={markA}
        lines={[{ pts: aPermSV, color: '#f4a0a0', w: 1 }, { pts: aTrueSV, color: '#333', w: 0.9 }]} />
      <Plot kind="gg" left={36} top={127} w={284} h={73} xDomain={[-0.05, 1.05]} yDomain={[-0.003, 0.106]} yTicks={[0, 0.02, 0.04, 0.06, 0.08, 0.1]} marks={markA}
        lines={[{ pts: aImpRaw, color: '#aeb0f0', w: 0.7, op: 0.8 }, { pts: aImpSmooth, color: '#4848d8', w: 0.9 }]} />
      <Plot kind="ridge" left={36} top={205} w={284} h={48} xDomain={[-0.05, 1.05]} yDomain={[0, 48]} ridges={ridgeA} />

      {/* Panel C */}
      <Plot kind="gg" left={379} top={33} w={284} h={69} xDomain={[-0.054, 1.042]} yDomain={[-1.06, 1.04]} yTicks={SV_TICKS} marks={markC}
        lines={[{ pts: cPermSV, color: '#f4a0a0', w: 1 }, { pts: cTrueSV, color: '#333', w: 0.9 }]} />
      <Plot kind="gg" left={379} top={126} w={284} h={70} xDomain={[-0.054, 1.042]} yDomain={[0, 0.0688]} yTicks={[0, 0.01, 0.02, 0.03, 0.04, 0.05, 0.06]} marks={markC}
        lines={[{ pts: cImpRaw, color: '#aeb0f0', w: 0.7, op: 0.8 }, { pts: cImpSmooth, color: '#4848d8', w: 0.9 }]} />
      <Plot kind="ridge" left={379} top={205} w={284} h={48} xDomain={[-0.054, 1.042]} yDomain={[0, 48]} ridges={ridgeC} />

      {/* Panel B */}
      <Plot kind="mpl" left={41} top={317} w={176} h={132} xDomain={[0, 1]} yDomain={[0, 0.109]} yTicks={[0, 0.02, 0.04, 0.06, 0.08, 0.1]} marks={markB}
        lines={[ns(bImp20182, '20182'), ns(bImp37798, '37798'), ns(bImp31581, '31581'), ns(bImp40758, '40758'), ns(bImp94397, '94397'), ns(bImp83026, '83026'),
          ps(bImp92196, '92196'), ps(bImp90850, '90850'), ps(bImp10678, '10678'), ps(bImp10737, '10737')]} />
      <Plot kind="mpl" left={41} top={478} w={176} h={132} xDomain={[0, 1]} yDomain={[1.658, 2.353]} yTicks={[1.7, 1.8, 1.9, 2.0, 2.1, 2.2, 2.3]} yDec={1} marks={markB}
        lines={[ns(bVal20182, '20182'), ns(bVal37798, '37798'), ns(bVal31581, '31581'), ns(bVal40758, '40758'), ns(bVal94397, '94397'), ns(bVal83026, '83026'),
          ps(bVal92196, '92196'), ps(bVal90850, '90850'), ps(bVal10678, '10678'), ps(bVal10737, '10737')]} />

      {/* Panel D */}
      <Plot kind="mpl" left={276} top={317} w={177} h={132} xDomain={[0, 1]} yDomain={[0, 0.164]} yTicks={[0, 0.02, 0.04, 0.06, 0.08, 0.1, 0.12, 0.14, 0.16]} marks={markD}
        lines={[ns(dImp20182, '20182'), ns(dImp10678, '10678'), ns(dImp37798, '37798'), ns(dImp31581, '31581'), ns(dImp40758, '40758'), ns(dImp94397, '94397'), ns(dImp83026, '83026'),
          ps(dImp92196, '92196'), ps(dImp90850, '90850')]} />
      <Plot kind="mpl" left={276} top={478} w={177} h={131} xDomain={[0, 1]} yDomain={[0.6, 2.53]} yTicks={[0.75, 1.0, 1.25, 1.5, 1.75, 2.0, 2.25, 2.5]} marks={markD}
        lines={[ns(dVal20182, '20182'), ns(dVal10678, '10678'), ns(dVal37798, '37798'), ns(dVal31581, '31581'), ns(dVal40758, '40758'), ns(dVal94397, '94397'), ns(dVal83026, '83026'),
          ps(dVal92196, '92196'), ps(dVal90850, '90850')]} />

      {/* Panel E */}
      <Plot kind="mpl" left={489} top={317} w={176} h={132} xDomain={[0, 1]} yDomain={[0, 0.112]} yTicks={[0, 0.02, 0.04, 0.06, 0.08, 0.1]} marks={markE}
        lines={[ns(eImp20182, '20182'), ns(eImp10678, '10678'), ns(eImp37798, '37798'), ns(eImp31581, '31581'), ns(eImp40758, '40758'), ns(eImp94397, '94397'), ns(eImp83026, '83026'),
          ps(eImp92196, '92196'), ps(eImp90850, '90850')]} />
      <Plot kind="mpl" left={489} top={478} w={176} h={131} xDomain={[0, 1]} yDomain={[0.79, 2.58]} yTicks={[0.8, 1.0, 1.2, 1.4, 1.6, 1.8, 2.0, 2.2, 2.4]} yDec={1} marks={markE}
        lines={[ns(eVal20182, '20182'), ns(eVal10678, '10678'), ns(eVal37798, '37798'), ns(eVal31581, '31581'), ns(eVal40758, '40758'), ns(eVal94397, '94397'), ns(eVal83026, '83026'),
          ps(eVal92196, '92196'), ps(eVal90850, '90850')]} />

      <svg width={685} height={711} style={{ position: 'absolute', left: 0, top: 0, pointerEvents: 'none' }}>
        {/* A */}
        <T x={9} y={20} s="A" size={19} bold anchor="start" />
        <T x={178} y={25} s="SVs and Permuted Model Predictions in giredestrant-treated #92196" size={8.6} bold len={286} />
        <T x={20} y={70} s="Selection Value" size={6.5} bold rot len={50} />
        <line x1={163} x2={172} y1={86} y2={86} stroke="#333" strokeWidth={1} />
        <T x={175} y={86} s="True selection value" size={5} anchor="start" len={47} />
        <line x1={163} x2={172} y1={92} y2={92} stroke="#f4a0a0" strokeWidth={1} />
        <T x={175} y={92} s="EMT gene set-perturbed SV" size={5} anchor="start" len={72} />
        <T x={178} y={120} s="Importance of EMT gene set in giredestrant-treated #92196" size={8.6} bold len={247} />
        <T x={20} y={166} s="Importance Scores" size={6.5} bold rot len={58} />
        <RidgeLabels x={31} ridges={ridgeA} />
        <T x={173} y={264} s="Pseudotime" size={9.5} bold len={50} />

        {/* C */}
        <T x={347} y={20} s="C" size={19} bold anchor="start" />
        <T x={522} y={26} s="SVs and Permuted Model Predictions in palbociclib-treated #92196" size={8.6} bold len={280} />
        <T x={365} y={71} s="Selection Value" size={6.5} bold rot len={52} />
        <line x1={543} x2={552} y1={88} y2={88} stroke="#333" strokeWidth={1} />
        <T x={555} y={88} s="True selection value" size={5} anchor="start" len={47} />
        <line x1={543} x2={552} y1={94} y2={94} stroke="#f4a0a0" strokeWidth={1} />
        <T x={555} y={94} s="E2F targets-perturbed SV" size={5} anchor="start" len={65} />
        <T x={521} y={120} s="Importance of E2F targets in palbociclib-treated #92196" size={8.6} bold len={232} />
        <T x={365} y={166} s="Importance Scores" size={6.5} bold rot len={58} />
        <RidgeLabels x={375} ridges={ridgeC} />
        <T x={530} y={264} s="Pseudotime" size={9.5} bold len={50} />

        {/* B */}
        <T x={22} y={300} s="B" size={18} bold anchor="start" />
        <T x={123} y={309} s="EMT Importance Scores (giredestrant)" size={9} bold len={161} />
        <T x={17} y={389} s="Smoothed Importance Scores (avg20)" size={6.3} bold rot len={118} />
        <T x={124} y={471} s="EMT Values (giredestrant)" size={9} bold len={108} />
        <T x={17} y={543} s="Smoothed Gene Set Values (avg50)" size={6.3} bold rot len={110} />
        <T x={128} y={627} s="Pseudotime" size={9.5} bold len={50} />
        <CloneLegend nsIds={NS_B} psIds={PS_B} nsX={77} nsHeadX={77} psX={139} rows={[653, 663, 672.5, 682, 692, 701.5]} />

        {/* D */}
        <T x={250} y={301} s="D" size={18} bold anchor="start" />
        <T x={362} y={310} s="ER Late Importance Scores (palbociclib)" size={9} bold len={170} />
        <T x={254} y={389} s="Smoothed Importance Scores (avg20)" size={6.3} bold rot len={118} />
        <T x={360} y={471} s="ER Late Values (palbociclib)" size={9} bold len={117} />
        <T x={253} y={544} s="Smoothed Gene Set Values (avg50)" size={6.3} bold rot len={108} />
        <T x={363} y={627} s="Pseudotime" size={9.5} bold len={50} />
        <CloneLegend nsIds={NS_DE} psIds={PS_DE} nsX={313} nsHeadX={318} psX={377} rows={[650, 660, 669.5, 679, 689, 698.5, 708]} />

        {/* E */}
        <T x={461} y={301} s="E" size={18} bold anchor="start" />
        <T x={575} y={310} s="E2F targets Importance Scores (palbociclib)" size={9} bold len={184} />
        <T x={468} y={388} s="Smoothed Importance Scores (avg20)" size={6.3} bold rot len={120} />
        <T x={573} y={471} s="E2F targets Values (palbociclib)" size={9} bold len={131} />
        <T x={468} y={545} s="Smoothed Gene Set Values (avg50)" size={6.3} bold rot len={105} />
        <T x={577} y={627} s="Pseudotime" size={9.5} bold len={50} />
        <CloneLegend nsIds={NS_DE} psIds={PS_DE} nsX={518} nsHeadX={522} psX={580} rows={[650, 660, 669.5, 679, 689, 698.5, 708]} />
      </svg>
    </div>
  );
}
